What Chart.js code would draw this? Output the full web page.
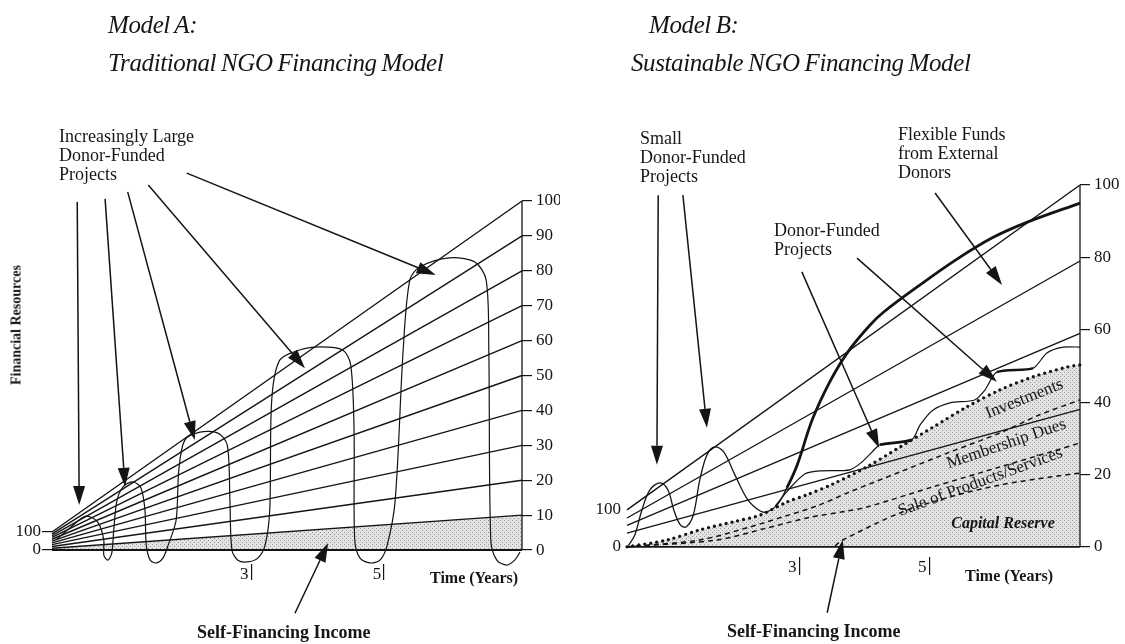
<!DOCTYPE html>
<html>
<head>
<meta charset="utf-8">
<title>NGO Financing Models</title>
<script src="https://cdn.jsdelivr.net/npm/chart.js@4.4.1/dist/chart.umd.min.js"></script>
<style>
  body { margin: 0; background: #fff; }
  #page { position: relative; width: 1125px; height: 644px; overflow: hidden;
          font-family: "Liberation Serif", "DejaVu Serif", serif; color: #161616; }
  canvas { position: absolute; top: 0; }
  #chartA { left: 0; }
  #chartB { left: 560px; }
  .t { position: absolute; white-space: nowrap; font-size: 18px; line-height: 19px; }
  .title { font-style: italic; font-size: 25px; line-height: 28px; letter-spacing: -0.4px; word-spacing: -1px; }
  .bold { font-weight: bold; font-size: 16px; }
  .inside { font-size: 17px; }
</style>
</head>
<body>
<div id="page">
  <canvas id="chartA" width="560" height="644"></canvas>
  <canvas id="chartB" width="565" height="644"></canvas>

  <div class="t title" style="left:108px;top:11px">Model A:</div>
  <div class="t title" style="left:108px;top:49px">Traditional NGO Financing Model</div>
  <div class="t title" style="left:649px;top:11px">Model B:</div>
  <div class="t title" style="left:631px;top:49px">Sustainable NGO Financing Model</div>

  <div class="t" style="left:59px;top:127px">Increasingly Large<br>Donor-Funded<br>Projects</div>
  <div class="t bold" style="left:16px;top:325px;font-size:14px;transform:translate(-50%,-50%) rotate(-90deg)">Financial Resources</div>
  <div class="t bold" style="left:430px;top:568px">Time (Years)</div>
  <div class="t bold" style="left:197px;top:623px;font-size:18px">Self-Financing Income</div>

  <div class="t" style="left:640px;top:129px">Small<br>Donor-Funded<br>Projects</div>
  <div class="t" style="left:898px;top:125px">Flexible Funds<br>from External<br>Donors</div>
  <div class="t" style="left:774px;top:221px">Donor-Funded<br>Projects</div>
  <div class="t inside" style="left:1024px;top:398px;transform:translate(-50%,-50%) rotate(-22deg)">Investments</div>
  <div class="t inside" style="left:1006px;top:443px;transform:translate(-50%,-50%) rotate(-19deg)">Membership Dues</div>
  <div class="t inside" style="left:980px;top:481px;transform:translate(-50%,-50%) rotate(-20deg)">Sale of Products/Services</div>
  <div class="t" style="left:1003px;top:522px;transform:translate(-50%,-50%);font-weight:bold;font-style:italic;font-size:16px">Capital Reserve</div>
  <div class="t bold" style="left:965px;top:566px">Time (Years)</div>
  <div class="t bold" style="left:727px;top:622px;font-size:18px">Self-Financing Income</div>
</div>

<script>
// ---------- Model A : traditional ----------
const A_xMax = 7.08;
const A_yMin = -4, A_yMax = 100;
const A_miniMin = -78, A_miniMax = 1940;          // small 0-100 scale at the origin
const A_rightTicks = [0, 10, 20, 30, 40, 50, 60, 70, 80, 90, 100];
const A_miniTicks = [0, 100];
const A_xTicks = [3, 5];
const A_fanStart = [10, 20, 30, 40, 50, 60, 70, 80, 90, 100];   // read on the small left scale
const A_fanEnd = [10, 20, 30, 40, 50, 60, 70, 80, 90, 100];     // read on the right scale

// the donor project wave (years, right scale)
const A_waveX = [0.06, 0.27, 0.51, 0.69, 0.78, 0.78, 0.84, 0.90, 0.93, 0.98, 1.08, 1.22, 1.34, 1.40, 1.42,
  1.48, 1.57, 1.67, 1.75, 1.87, 1.91, 2.00, 2.23, 2.50, 2.64, 2.68, 2.71, 2.80, 2.94, 3.10, 3.21, 3.28,
  3.31, 3.43, 3.73, 4.04, 4.38, 4.50, 4.55, 4.56, 4.64, 4.79, 4.94, 5.05, 5.17, 5.29, 5.39, 5.54, 5.99,
  6.37, 6.54, 6.58, 6.61, 6.70, 6.85, 6.97, 7.05];
const A_waveY = [2.9, 6.3, 9.7, 8.0, 2.9, -1.4, -2.9, -0.9, 5.7, 14.3, 18.3, 19.5, 17.8, 11.5, 1.4,
  -2.9, -3.7, -2.3, 1.4, 8.6, 22.9, 31.5, 33.8, 33.5, 30.1, 14.3, 0, -2.9, -3.4, -2.3, 1.4, 11.5,
  43.0, 54.4, 57.3, 58.2, 57.3, 53.0, 34.4, 2.9, -2.3, -3.7, -2.9, 1.4, 14.3, 57.3, 77.4, 81.1, 83.7,
  82.5, 77.4, 57.3, 2.9, -2.9, -4.3, -2.9, -0.6];

// arrows: tail x, tail y, head x, head y
const A_arrows = [
  [0.38, 99.7, 0.41, 12.9],
  [0.80, 100.6, 1.10, 18.1],
  [1.14, 102.6, 2.15, 31.5],
  [1.45, 104.6, 3.81, 52.1],
  [2.03, 108.0, 5.78, 78.8],
  [3.66, -18.1, 4.16, 2.0]
];

// ---------- Model B : sustainable ----------
const B_xMin = 0.35, B_xMax = 7.32;
const B_yMin = -2.8, B_yMax = 100;
const B_miniMin = -27.4, B_miniMax = 978;
const B_rightTicks = [0, 20, 40, 60, 80, 100];
const B_miniTicks = [0, 100];
const B_xTicks = [3, 5];
const B_fanStart = [100, 78, 58, 37];   // small left scale
const B_fanEnd = [100, 79, 59, 38];     // right scale

const B_waveX = [0.37, 0.47, 0.58, 0.70, 0.86, 0.98, 1.07, 1.17, 1.26, 1.37, 1.47, 1.58, 1.70, 1.84, 2.01,
  2.21, 2.40, 2.50, 2.66, 2.81, 2.97, 3.20, 3.47, 3.75, 4.09, 4.30, 4.86, 5.41, 5.97, 6.52, 7.32];
const B_waveY = [0.3, 3.3, 10.2, 15.7, 17.7, 15.7, 10.2, 6.1, 5.5, 8.8, 18.5, 25.4, 27.6, 26.2, 19.9,
  13.0, 9.9, 9.7, 11.6, 16.3, 22.7, 35.1, 45.6, 53.9, 61.3, 64.9, 72.4, 79.3, 85.4, 89.8, 95.0];
const B_flexFrom = 2.81;   // flexible funds: thick part

const B_lowX = [2.63, 2.86, 3.09, 3.32, 3.78, 3.97, 4.12, 4.24, 4.73, 4.86, 5.06, 5.32, 5.70, 5.86, 6.04,
  6.60, 6.81, 7.06, 7.32];
const B_lowY = [11.3, 16.3, 20.2, 21.0, 21.3, 23.5, 26.2, 28.2, 29.6, 33.7, 37.8, 39.8, 40.6, 43.4, 48.3,
  49.4, 53.6, 55.2, 55.2];
const B_lowThick = [[4.24, 4.73], [6.04, 6.60]];

const B_investX = [0.35, 0.97, 1.47, 1.98, 2.40, 2.81, 3.12, 3.52, 4.04, 4.55, 5.06, 5.58, 6.09, 6.60, 7.12, 7.32];
const B_investY = [0, 1.9, 4.7, 6.9, 8.8, 12.4, 14.4, 17.4, 22.1, 27.6, 33.1, 38.7, 43.4, 47.0, 49.7, 50.3];
const B_duesX = [0.35, 1.47, 2.24, 2.75, 3.27, 3.78, 4.55, 5.32, 6.09, 6.70, 7.32];
const B_duesY = [0, 1.9, 5.5, 8.3, 11.3, 15.2, 20.7, 26.2, 31.5, 36.5, 40.6];
const B_salesX = [0.35, 1.73, 2.50, 3.12, 3.73, 4.04, 5.06, 6.09, 6.86, 7.32];
const B_salesY = [0, 1.9, 5.2, 8.0, 9.9, 11.0, 16.6, 22.1, 26.2, 28.7];
const B_reserveX = [3.55, 3.67, 4.55, 5.32, 6.09, 6.86, 7.32];
const B_reserveY = [0.3, 1.9, 9.4, 13.8, 17.1, 19.3, 20.4];

const B_arrows = [
  [0.83, 97.2, 0.81, 22.7],
  [1.21, 97.2, 1.58, 32.9],
  [5.09, 97.8, 6.12, 72.4],
  [3.04, 76.0, 4.23, 27.3],
  [3.89, 79.8, 6.04, 45.6],
  [3.43, -18.2, 3.67, 1.9]
];

const ink = '#141414';
const serif = '"Liberation Serif", "DejaVu Serif", serif';

function pts(xs, ys) {
  return xs.map((x, i) => ({x: x, y: ys[i]}));
}

function line(data, extra) {
  return Object.assign({
    data: data, yAxisID: 'y', borderColor: ink, borderWidth: 1.4, pointRadius: 0,
    fill: false, tension: 0, clip: false
  }, extra || {});
}

function stipple() {
  const c = document.createElement('canvas');
  c.width = 4; c.height = 4;
  const g = c.getContext('2d');
  g.fillStyle = '#e2e2e2';
  g.fillRect(0, 0, 4, 4);
  g.fillStyle = '#9c9c9c';
  g.fillRect(0, 0, 1, 1);
  g.fillRect(2, 2, 1, 1);
  return g.createPattern(c, 'repeat');
}

function arrowPlugin(list) {
  return {
    id: 'arrows',
    afterDatasetsDraw(chart) {
      const ctx = chart.ctx, xs = chart.scales.x, ys = chart.scales.y;
      ctx.save();
      ctx.strokeStyle = ink;
      ctx.fillStyle = ink;
      ctx.lineWidth = 1.5;
      list.forEach(a => {
        const x1 = xs.getPixelForValue(a[0]), y1 = ys.getPixelForValue(a[1]);
        const x2 = xs.getPixelForValue(a[2]), y2 = ys.getPixelForValue(a[3]);
        const ang = Math.atan2(y2 - y1, x2 - x1);
        const L = 19, W = 6;
        const bx = x2 - L * Math.cos(ang), by = y2 - L * Math.sin(ang);
        ctx.beginPath();
        ctx.moveTo(x1, y1);
        ctx.lineTo(bx, by);
        ctx.stroke();
        ctx.beginPath();
        ctx.moveTo(x2, y2);
        ctx.lineTo(bx + W * Math.sin(ang), by - W * Math.cos(ang));
        ctx.lineTo(bx - W * Math.sin(ang), by + W * Math.cos(ang));
        ctx.closePath();
        ctx.fill();
      });
      ctx.restore();
    }
  };
}

function scalesFor(cfg) {
  const font = {family: serif, size: 17};
  return {
    x: {
      type: 'linear', min: cfg.xMin, max: cfg.xMax,
      border: {display: false},
      grid: {drawOnChartArea: false, drawTicks: true, tickLength: cfg.xTick, color: ink, lineWidth: 1.2},
      ticks: {color: ink, font: font, padding: -cfg.xTick, labelOffset: -7},
      afterBuildTicks: s => { s.ticks = cfg.xTicks.map(v => ({value: v})); },
      afterFit: s => { s.height = cfg.xHeight; }
    },
    y: {
      position: 'right', min: cfg.yMin, max: cfg.yMax,
      border: {display: false},
      grid: {drawOnChartArea: false, tickLength: 10, color: ink, lineWidth: 1.2},
      ticks: {color: ink, font: font, padding: 4},
      afterBuildTicks: s => { s.ticks = cfg.rightTicks.map(v => ({value: v})); },
      afterFit: s => { s.width = cfg.rightWidth; }
    },
    yMini: {
      position: 'left', min: cfg.miniMin, max: cfg.miniMax,
      border: {display: false},
      grid: {drawOnChartArea: false, drawTicks: cfg.miniTick > 0, tickLength: cfg.miniTick, color: ink, lineWidth: 1.2},
      ticks: {color: ink, font: font, padding: cfg.miniPad},
      afterBuildTicks: s => { s.ticks = cfg.miniTicks.map(v => ({value: v})); },
      afterFit: s => { s.width = cfg.leftWidth; }
    }
  };
}

function baseOptions(top, scales) {
  return {
    responsive: false, animation: false, devicePixelRatio: 1, events: [],
    layout: {padding: {top: top, left: 0, right: 0, bottom: 0}},
    plugins: {legend: {display: false}, tooltip: {enabled: false}},
    scales: scales
  };
}

// ----- chart A datasets
const kA = (A_yMax - A_yMin) / (A_miniMax - A_miniMin);
const setsA = [];
A_fanStart.forEach((s, i) => {
  const extra = i === 0 ? {fill: 'origin', backgroundColor: stipple(), order: 10} : {};
  setsA.push(line([{x: 0, y: s * kA}, {x: A_xMax, y: A_fanEnd[i]}], extra));
});
setsA.push(line(pts(A_waveX, A_waveY), {tension: 0.3, borderWidth: 1.2}));
setsA.push(line([{x: 0, y: 0}, {x: A_xMax, y: 0}], {borderWidth: 1.9}));
setsA.push(line([{x: A_xMax, y: 0}, {x: A_xMax, y: A_yMax}], {borderWidth: 1.3}));

new Chart(document.getElementById('chartA'), {
  type: 'line',
  data: {datasets: setsA},
  options: baseOptions(201, scalesFor({
    xMin: 0, xMax: A_xMax, xTicks: A_xTicks, xTick: 16, xHeight: 80,
    yMin: A_yMin, yMax: A_yMax, rightTicks: A_rightTicks, rightWidth: 38,
    miniMin: A_miniMin, miniMax: A_miniMax, miniTicks: A_miniTicks, miniTick: 10, miniPad: 1, leftWidth: 52
  })),
  plugins: [arrowPlugin(A_arrows)]
});

// ----- chart B datasets
const kB = (B_yMax - B_yMin) / (B_miniMax - B_miniMin);
const setsB = [];
setsB.push(line(pts(B_investX, B_investY), {
  fill: 'origin', backgroundColor: stipple(), order: 10, tension: 0.3,
  borderWidth: 3.3, borderDash: [0, 6], borderCapStyle: 'round'
}));
setsB.push(line(pts(B_duesX, B_duesY), {tension: 0.3, borderWidth: 1.5, borderDash: [5, 4]}));
setsB.push(line(pts(B_salesX, B_salesY), {tension: 0.3, borderWidth: 1.5, borderDash: [5, 4]}));
setsB.push(line(pts(B_reserveX, B_reserveY), {tension: 0.3, borderWidth: 1.5, borderDash: [5, 4]}));
B_fanStart.forEach((s, i) => {
  setsB.push(line([{x: B_xMin, y: s * kB}, {x: B_xMax, y: B_fanEnd[i]}]));
});
setsB.push(line(pts(B_waveX, B_waveY), {
  tension: 0.35,
  segment: {borderWidth: c => c.p0.parsed.x >= B_flexFrom ? 2.8 : 1.3}
}));
setsB.push(line(pts(B_lowX, B_lowY), {
  tension: 0.25,
  segment: {borderWidth: c => B_lowThick.some(r => c.p0.parsed.x >= r[0] - 1e-6 && c.p1.parsed.x <= r[1] + 1e-6) ? 2.6 : 1.2}
}));
setsB.push(line([{x: B_xMin, y: 0}, {x: B_xMax, y: 0}], {borderWidth: 1.9}));
setsB.push(line([{x: B_xMax, y: 0}, {x: B_xMax, y: B_yMax}], {borderWidth: 1.3}));

new Chart(document.getElementById('chartB'), {
  type: 'line',
  data: {datasets: setsB},
  options: baseOptions(185, scalesFor({
    xMin: B_xMin, xMax: B_xMax, xTicks: B_xTicks, xTick: 18, xHeight: 87,
    yMin: B_yMin, yMax: B_yMax, rightTicks: B_rightTicks, rightWidth: 45,
    miniMin: B_miniMin, miniMax: B_miniMax, miniTicks: B_miniTicks, miniTick: 0, miniPad: 6, leftWidth: 67
  })),
  plugins: [arrowPlugin(B_arrows)]
});
</script>
</body>
</html>
